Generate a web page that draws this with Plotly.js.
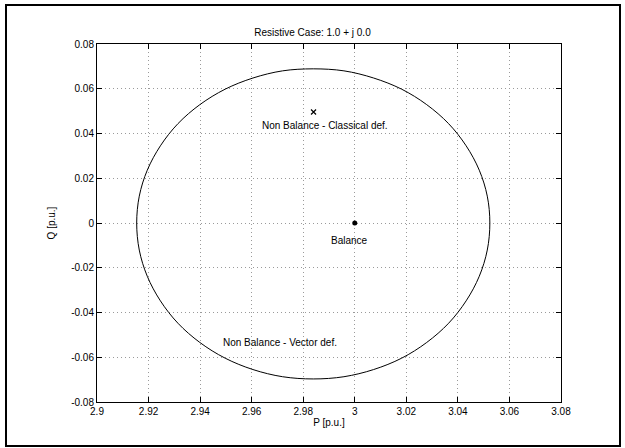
<!DOCTYPE html>
<html>
<head>
<meta charset="utf-8">
<script src="https://cdn.plot.ly/plotly-3.0.1.min.js"></script>
<style>html,body{margin:0;padding:0;background:#fff;}#chart{width:625px;height:448px;}</style>
</head>
<body>
<div id="chart"></div>
<script>
// Vector-definition non-balance locus
const vectorP = [3.0524, 3.0514, 3.0483, 3.0432, 3.0364, 3.0279, 3.0182, 3.0073, 2.9958, 2.9839,
                 2.9720, 2.9605, 2.9497, 2.9399, 2.9314, 2.9246, 2.9195, 2.9164, 2.9154,
                 2.9164, 2.9195, 2.9246, 2.9314, 2.9399, 2.9497, 2.9605, 2.9720, 2.9839,
                 2.9958, 3.0073, 3.0182, 3.0279, 3.0364, 3.0432, 3.0483, 3.0514, 3.0524];
const vectorQ = [0.0000, 0.0120, 0.0236, 0.0345, 0.0444, 0.0529, 0.0598, 0.0648, 0.0680, 0.0689,
                 0.0680, 0.0648, 0.0598, 0.0529, 0.0444, 0.0345, 0.0236, 0.0120, 0.0000,
                 -0.0121, -0.0238, -0.0348, -0.0448, -0.0534, -0.0604, -0.0655, -0.0687, -0.0697,
                 -0.0687, -0.0655, -0.0604, -0.0534, -0.0448, -0.0348, -0.0238, -0.0121, 0.0000];
// Classical-definition point and balance point
const classicalP = [2.984];
const classicalQ = [0.0496];
const balanceP = [3.0];
const balanceQ = [0.0];
// Text labels
const labelText = ["Non Balance - Classical def.", "Balance", "Non Balance - Vector def."];
const labelP = [2.9884, 2.9981, 2.9709];
const labelQ = [0.0438, -0.0076, -0.0532];
// Ticks
const xTickVals = [2.9, 2.92, 2.94, 2.96, 2.98, 3.0, 3.02, 3.04, 3.06, 3.08];
const xTickText = ["2.9", "2.92", "2.94", "2.96", "2.98", "3", "3.02", "3.04", "3.06", "3.08"];
const yTickVals = [0.08, 0.06, 0.04, 0.02, 0, -0.02, -0.04, -0.06, -0.08];
const yTickText = ["0.08", "0.06", "0.04", "0.02", "0", "-0.02", "-0.04", "-0.06", "-0.08"];

const font = {family: "Arial, 'Liberation Sans', sans-serif", size: 10, color: "#000"};

const traces = [
  {x: vectorP, y: vectorQ, mode: "lines", line: {color: "#000", width: 1, shape: "spline", smoothing: 1}, hoverinfo: "skip"},
  {x: classicalP, y: classicalQ, mode: "markers", marker: {symbol: "x-thin", size: 5, line: {color: "#000", width: 1.2}, color: "#000"}},
  {x: balanceP, y: balanceQ, mode: "markers", marker: {symbol: "circle", size: 5, color: "#000"}}
];

const annotations = labelText.map((t, i) => ({
  x: labelP[i], y: labelQ[i], xref: "x", yref: "y", text: t, showarrow: false, font: font
}));

const axisCommon = {
  showline: true, linecolor: "#000", linewidth: 1, mirror: "ticks",
  ticks: "inside", ticklen: 5, tickcolor: "#000", tickwidth: 1,
  showgrid: true, gridcolor: "#9a9a9a", gridwidth: 1, griddash: "1px,3px",
  zeroline: false, tickfont: font, tickmode: "array"
};

const layout = {
  width: 625, height: 448,
  margin: {l: 97, r: 64, t: 44, b: 46},
  paper_bgcolor: "#fff", plot_bgcolor: "#fff",
  showlegend: false,
  font: font,
  title: {text: "Resistive Case: 1.0 + j 0.0", font: font, x: 0.5, xanchor: "center", y: 1, yref: "paper", yanchor: "bottom", pad: {b: 8}},
  xaxis: Object.assign({}, axisCommon, {range: [2.9, 3.08], tickvals: xTickVals, ticktext: xTickText,
    title: {text: "P [p.u.]", font: font, standoff: 1}}),
  yaxis: Object.assign({}, axisCommon, {range: [-0.08, 0.08], tickvals: yTickVals, ticktext: yTickText,
    title: {text: "Q [p.u.]", font: font, standoff: 13}}),
  annotations: annotations,
  shapes: [{type: "rect", xref: "paper", yref: "paper",
    x0: (6 - 97) / 464, x1: (620 - 97) / 464, y0: (402 - 446) / 358, y1: (402 - 5) / 358,
    line: {color: "#000", width: 2}, fillcolor: "rgba(0,0,0,0)", layer: "above"}]
};

Plotly.newPlot("chart", traces, layout, {staticPlot: true, displayModeBar: false});
</script>
</body>
</html>
